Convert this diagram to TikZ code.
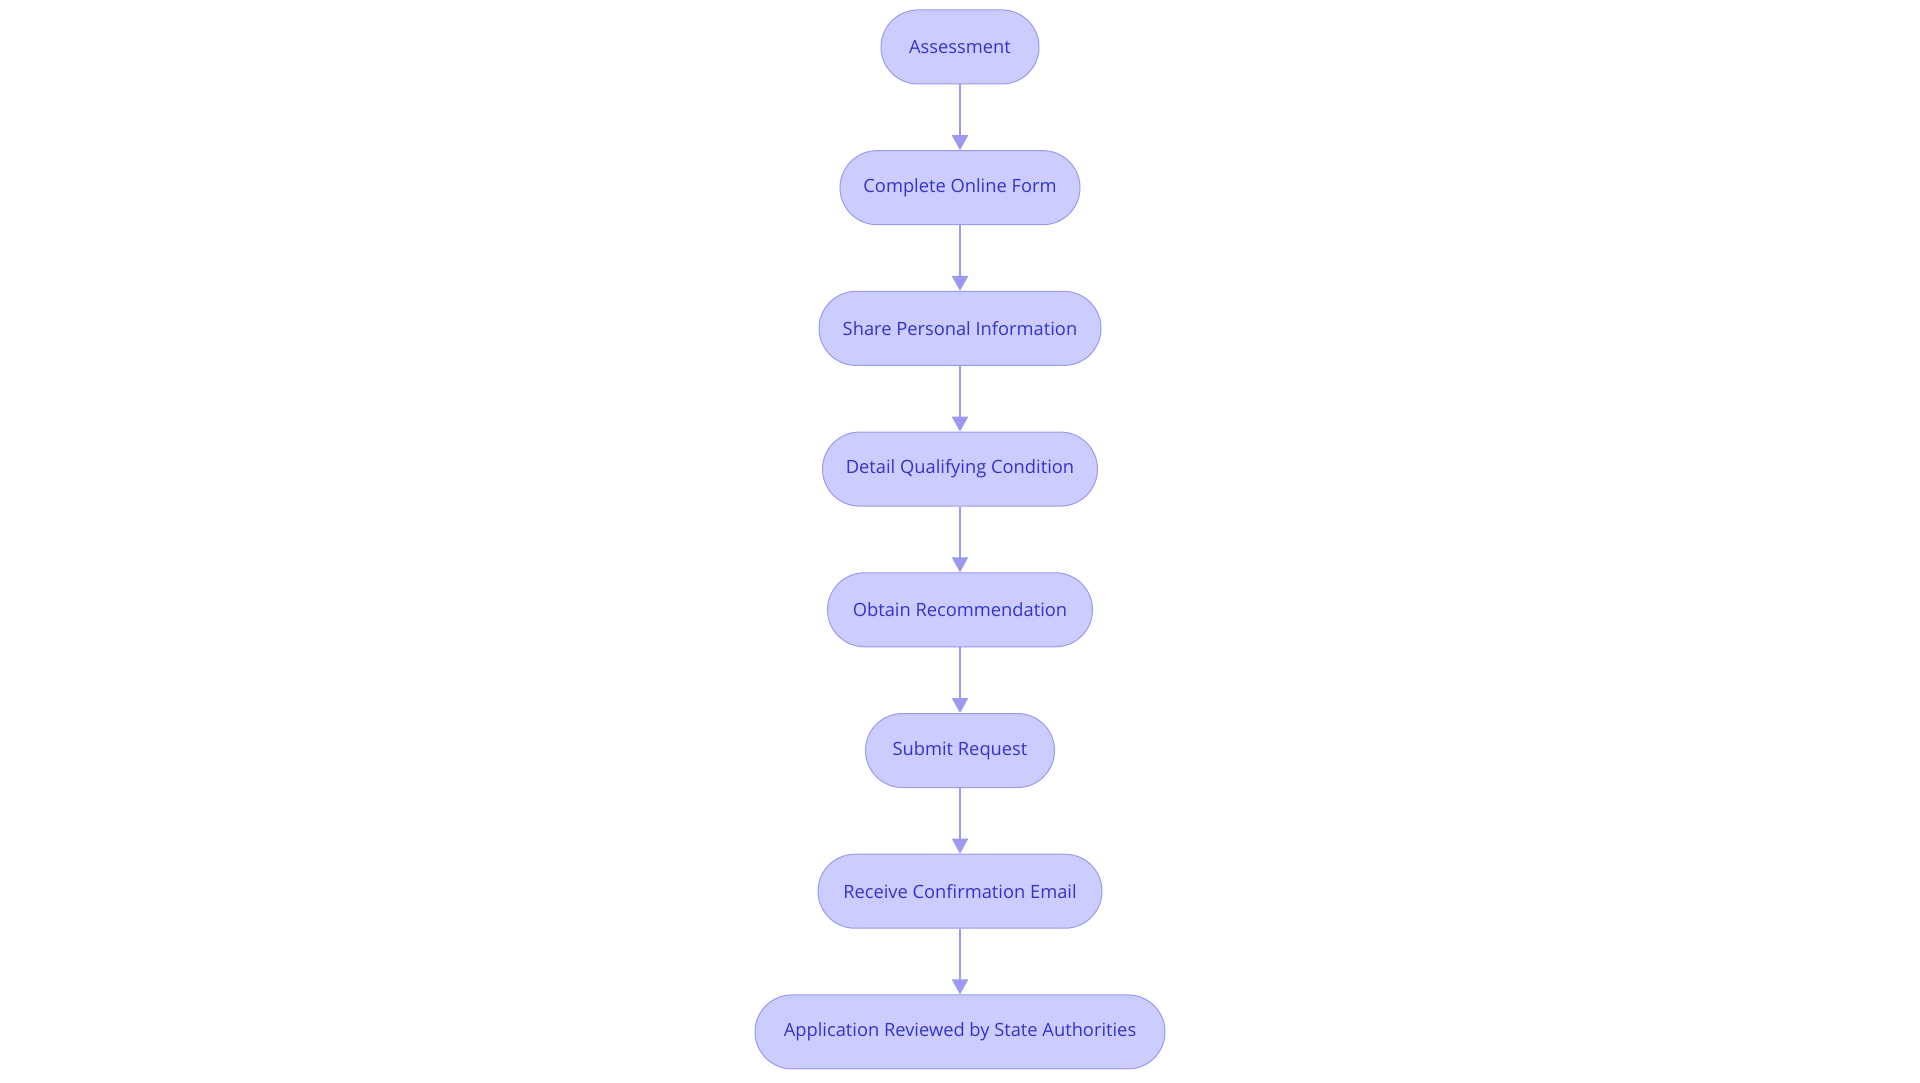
\documentclass[tikz,border=0pt]{standalone}
\usepackage{fontspec}
\setmainfont{Open Sans}
\usetikzlibrary{arrows.meta}
\definecolor{nodefill}{HTML}{CCCCFF}
\definecolor{nodedraw}{HTML}{9A9AEE}
\definecolor{nodetext}{HTML}{3434C8}
\definecolor{edgecol}{HTML}{9A9AEE}
\tikzset{
  stepbox/.style={draw=nodedraw, fill=nodefill, line width=1pt, rounded corners=37pt,
    minimum height=74pt, inner sep=0pt, text=nodetext,
    font=\fontsize{18.3}{22}\selectfont},
  flow/.style={draw=edgecol, line width=2.4pt, -{Triangle[width=16pt,length=15pt]}, shorten >=0pt}
}
\begin{document}
\begin{tikzpicture}[x=1pt,y=-1pt]
\useasboundingbox (0,0) rectangle (1920,1083);
\node[stepbox, minimum width=158pt] (n1) at (960,47) {Assessment};
\node[stepbox, minimum width=240pt] (n2) at (960,187.7) {Complete Online Form};
\node[stepbox, minimum width=282pt] (n3) at (960,328.4) {Share Personal Information};
\node[stepbox, minimum width=275pt] (n4) at (960,469.1) {Detail Qualifying Condition};
\node[stepbox, minimum width=265pt] (n5) at (960,609.8) {Obtain Recommendation};
\node[stepbox, minimum width=189pt] (n6) at (960,750.5) {Submit Request};
\node[stepbox, minimum width=284pt] (n7) at (960,891.2) {Receive Confirmation Email};
\node[stepbox, minimum width=410pt] (n8) at (960,1031.9) {Application Reviewed by State Authorities};
\draw[flow] (n1) -- (n2);
\draw[flow] (n2) -- (n3);
\draw[flow] (n3) -- (n4);
\draw[flow] (n4) -- (n5);
\draw[flow] (n5) -- (n6);
\draw[flow] (n6) -- (n7);
\draw[flow] (n7) -- (n8);
\end{tikzpicture}
\end{document}
